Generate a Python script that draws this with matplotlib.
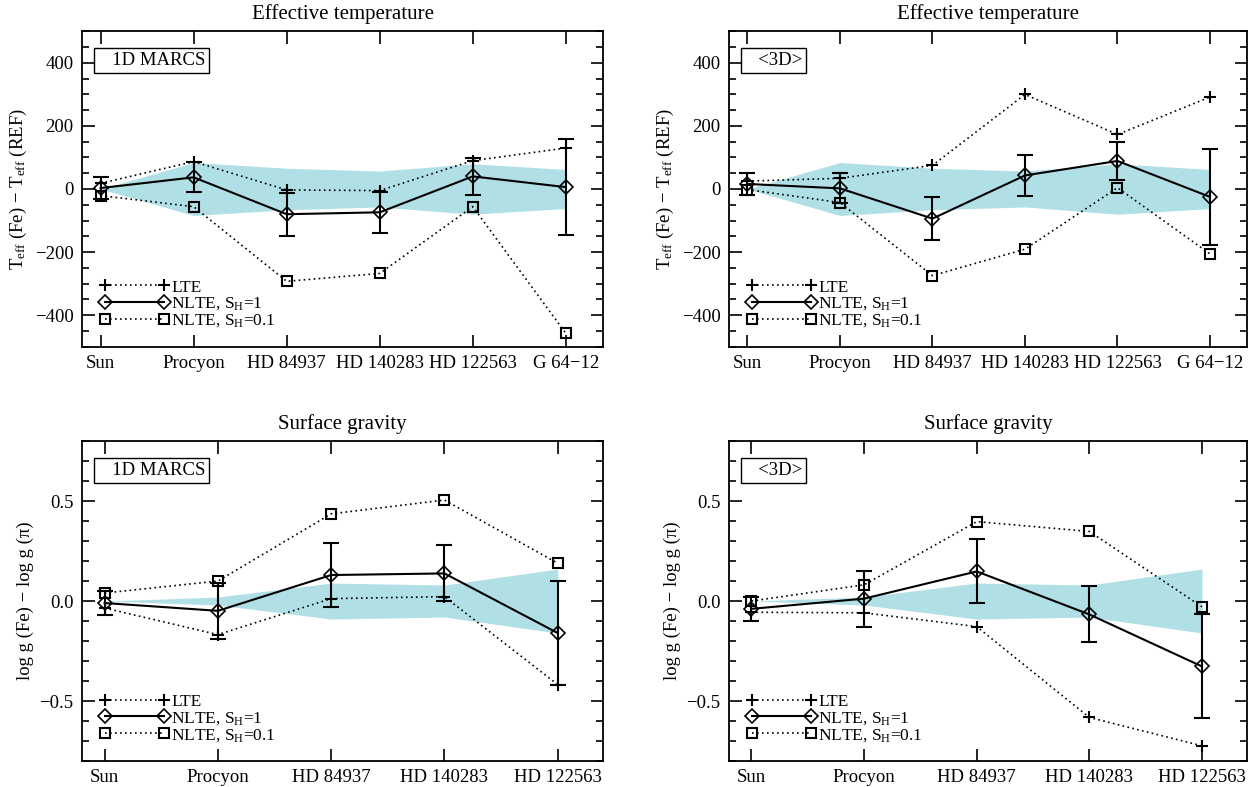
import numpy as np
import matplotlib.pyplot as plt
from matplotlib.ticker import MultipleLocator

plt.rcParams['font.family'] = ['Liberation Serif', 'DejaVu Serif']
plt.rcParams['mathtext.fontset'] = 'custom'
plt.rcParams['mathtext.rm'] = 'Liberation Serif'
plt.rcParams['mathtext.it'] = 'Liberation Serif:italic'

# star names
teff_stars = ['Sun', 'Procyon', 'HD 84937', 'HD 140283', 'HD 122563', 'G 64\u221212']
logg_stars = ['Sun', 'Procyon', 'HD 84937', 'HD 140283', 'HD 122563']

# uncertainty of the reference values (shaded band)
teff_band = [0, 84, 66, 57, 80, 62]
logg_band = [0, 0.02, 0.09, 0.08, 0.16]

# error bars of the NLTE (S_H=1) results
teff_err = [36, 48, 68, 66, 59, 152]
logg_err = [0.06, 0.14, 0.16, 0.14, 0.26]

# Teff(Fe) - Teff(REF), 1D MARCS
teff_1d_lte = [18, 87, -3, -5, 90, 130]
teff_1d_nlte = [3, 37, -80, -74, 40, 6]
teff_1d_nlte01 = [-21, -56, -293, -268, -56, -458]

# Teff(Fe) - Teff(REF), <3D>
teff_3d_lte = [25, 34, 75, 300, 173, 292]
teff_3d_nlte = [16, 2, -94, 43, 89, -25]
teff_3d_nlte01 = [-2, -43, -275, -191, 4, -206]

# log g(Fe) - log g(pi), 1D MARCS
logg_1d_lte = [-0.035, -0.168, 0.012, 0.022, -0.418]
logg_1d_nlte = [-0.01, -0.049, 0.13, 0.138, -0.16]
logg_1d_nlte01 = [0.04, 0.10, 0.436, 0.505, 0.189]

# log g(Fe) - log g(pi), <3D>
logg_3d_lte = [-0.056, -0.059, -0.128, -0.582, -0.724]
logg_3d_nlte = [-0.039, 0.012, 0.148, -0.067, -0.327]
logg_3d_nlte01 = [0.0, 0.081, 0.397, 0.348, -0.029]

DOT = (0, (1, 2))


def draw_panel(ax, stars, band, lte, nlte, err, nlte01, title, model, ylabel,
               ylim, major, minor):
    x = np.arange(len(stars))
    band = np.array(band)
    ax.fill_between(x, -band, band, color='#b0e0e6', lw=0, zorder=1)

    l1, = ax.plot(x, lte, ls=DOT, color='k', lw=1.2, marker='+', ms=8,
                  mew=1.5, zorder=3)
    ax.errorbar(x, nlte, yerr=err, fmt='none', ecolor='k', elinewidth=1.5,
                capsize=6, capthick=1.5, zorder=3)
    l2, = ax.plot(x, nlte, ls='-', color='k', lw=1.5, marker='D', ms=7,
                  mfc='none', mew=1.2, zorder=4)
    l3, = ax.plot(x, nlte01, ls=DOT, color='k', lw=1.2, marker='s', ms=7.5,
                  mfc='none', mew=1.5, zorder=3)

    ax.legend([l1, l2, l3],
              ['LTE', 'NLTE, S$_{\\rm H}$=1', 'NLTE, S$_{\\rm H}$=0.1'],
              loc='lower left', frameon=False, numpoints=2, fontsize=12.5,
              handlelength=4.0, handletextpad=0.15, labelspacing=0.0,
              borderaxespad=0.7, borderpad=0.3)

    ax.text(0.03, 0.935, model, transform=ax.transAxes, fontsize=13.5,
            ha='left', va='top',
            bbox=dict(boxstyle='square,pad=0.2', fc='white', ec='black', lw=1))

    ax.set_title(title, fontsize=15, pad=9)
    ax.set_ylabel(ylabel, fontsize=13.5)
    ax.set_xlim(-0.2, len(stars) - 0.6)
    ax.set_ylim(*ylim)
    ax.set_xticks(x)
    ax.set_xticklabels(stars, fontsize=13.5)
    ax.yaxis.set_major_locator(MultipleLocator(major))
    ax.yaxis.set_minor_locator(MultipleLocator(minor))
    ax.tick_params(which='both', direction='in', top=True, right=True,
                   labelsize=13.5, width=1.2)
    ax.tick_params(which='major', length=9, pad=6)
    ax.tick_params(which='minor', length=5)
    for s in ax.spines.values():
        s.set_linewidth(1.3)


fig = plt.figure(figsize=(12.48, 7.87), dpi=100)
ax1 = fig.add_axes([0.0657, 0.5597, 0.4175, 0.4003])
ax2 = fig.add_axes([0.5841, 0.5597, 0.4151, 0.4003])
ax3 = fig.add_axes([0.0657, 0.033, 0.4175, 0.4066])
ax4 = fig.add_axes([0.5841, 0.033, 0.4151, 0.4066])

teff_label = 'T$_{\\rm eff}$ (Fe) \u2212 T$_{\\rm eff}$ (REF)'
logg_label = 'log g (Fe) \u2212 log g (\u03c0)'

draw_panel(ax1, teff_stars, teff_band, teff_1d_lte, teff_1d_nlte, teff_err,
           teff_1d_nlte01, 'Effective temperature', '   1D MARCS', teff_label,
           (-500, 500), 200, 50)
draw_panel(ax2, teff_stars, teff_band, teff_3d_lte, teff_3d_nlte, teff_err,
           teff_3d_nlte01, 'Effective temperature', '   <3D>', teff_label,
           (-500, 500), 200, 50)
draw_panel(ax3, logg_stars, logg_band, logg_1d_lte, logg_1d_nlte, logg_err,
           logg_1d_nlte01, 'Surface gravity', '   1D MARCS', logg_label,
           (-0.8, 0.8), 0.5, 0.1)
draw_panel(ax4, logg_stars, logg_band, logg_3d_lte, logg_3d_nlte, logg_err,
           logg_3d_nlte01, 'Surface gravity', '   <3D>', logg_label,
           (-0.8, 0.8), 0.5, 0.1)

fig.savefig('out.png', dpi=100)
